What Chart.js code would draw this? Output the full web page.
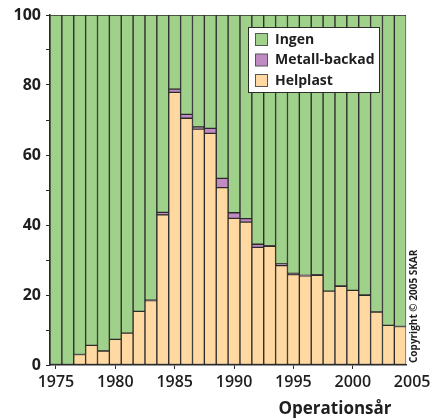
<!DOCTYPE html>
<html>
<head>
<meta charset="utf-8">
<script src="https://cdn.jsdelivr.net/npm/chart.js@4/dist/chart.umd.min.js"></script>
<style>
  body { margin: 0; background: #fff; }
  canvas { display: block; }
</style>
</head>
<body>
<canvas id="chart" width="434" height="420"></canvas>
<script>
const years = [1975, 1976, 1977, 1978, 1979, 1980, 1981, 1982, 1983, 1984,
  1985, 1986, 1987, 1988, 1989, 1990, 1991, 1992, 1993, 1994,
  1995, 1996, 1997, 1998, 1999, 2000, 2001, 2002, 2003, 2004];

const helplast = [0, 0, 3.0, 5.6, 4.0, 7.3, 9.1, 15.3, 18.4, 42.9,
  77.9, 70.5, 67.4, 66.2, 50.7, 41.9, 40.8, 33.6, 33.9, 28.4,
  25.8, 25.5, 25.6, 21.1, 22.5, 21.3, 19.9, 15.1, 11.3, 11.0];

const metall = [0, 0, 0, 0, 0, 0, 0, 0, 0.1, 0.7,
  0.9, 1.1, 0.6, 1.4, 2.6, 1.6, 1.0, 0.9, 0.2, 0.5,
  0.4, 0.1, 0.2, 0, 0.1, 0, 0.1, 0.1, 0, 0];

const ingen = [100, 100, 97.0, 94.4, 96.0, 92.7, 90.9, 84.7, 81.5, 56.4,
  21.2, 28.4, 32.0, 32.4, 46.7, 56.5, 58.2, 65.5, 65.9, 71.1,
  73.8, 74.4, 74.2, 78.9, 77.4, 78.7, 80.0, 84.8, 88.7, 89.0];

const xTickYears = [1975, 1980, 1985, 1990, 1995, 2000, 2005];
const yTickLabels = [0, 20, 40, 60, 80, 100];

const FONT = "'Open Sans', sans-serif";
const DARK = "#2b2b2b";

function points(values) {
  return years.map((y, i) => ({ x: y, y: values[i] }));
}

function barSet(label, values, color) {
  return {
    label: label,
    data: points(values),
    backgroundColor: color,
    borderColor: DARK,
    borderWidth: 1,
    borderSkipped: false,
    barPercentage: 1,
    categoryPercentage: 1
  };
}

// legend box, axis title and copyright drawn on top of the chart
const overlay = {
  id: "overlay",
  afterDraw(chart) {
    const ctx = chart.ctx;
    ctx.save();

    // legend
    const bx = 248.5, by = 27.5, bw = 131, bh = 65;
    ctx.fillStyle = "#fff";
    ctx.fillRect(bx, by, bw, bh);
    ctx.strokeStyle = DARK;
    ctx.lineWidth = 1;
    ctx.strokeRect(bx, by, bw, bh);

    const sets = chart.data.datasets.slice().reverse();
    ctx.font = "bold 14px " + FONT;
    ctx.textBaseline = "middle";
    ctx.textAlign = "left";
    sets.forEach((ds, i) => {
      const sy = 33.5 + i * 20.5;
      ctx.fillStyle = ds.backgroundColor;
      ctx.fillRect(255.5, sy, 12, 12);
      ctx.strokeStyle = "#555";
      ctx.strokeRect(255.5, sy, 12, 12);
      ctx.fillStyle = "#1e1e1e";
      ctx.fillText(ds.label, 275, sy + 6.5);
    });

    // x axis title
    ctx.font = "bold 17px " + FONT;
    ctx.textAlign = "center";
    ctx.fillStyle = "#1e1e1e";
    ctx.fillText("Operationsår", 335, 409);

    // copyright, vertical
    ctx.translate(414, 363);
    ctx.rotate(-Math.PI / 2);
    ctx.font = "bold 10px " + FONT;
    ctx.textAlign = "left";
    ctx.fillText("Copyright © 2005 SKAR", 0, 0);

    ctx.restore();
  }
};

new Chart(document.getElementById("chart"), {
  type: "bar",
  data: {
    datasets: [
      barSet("Helplast", helplast, "#ffd9a1"),
      barSet("Metall-backad", metall, "#bf8bc2"),
      barSet("Ingen", ingen, "#a0d18b")
    ]
  },
  options: {
    responsive: false,
    animation: false,
    layout: { padding: { top: 15, right: 27, left: 0, bottom: 0 } },
    plugins: {
      legend: { display: false },
      tooltip: { enabled: false }
    },
    scales: {
      x: {
        type: "linear",
        stacked: true,
        min: 1974.5,
        max: 2004.5,
        offset: false,
        afterBuildTicks: (scale) => {
          scale.ticks = xTickYears.map(v => ({ value: v }));
        },
        afterFit: (scale) => { scale.height = 55; },
        grid: {
          display: true,
          offset: false,
          drawOnChartArea: false,
          tickLength: 4,
          tickColor: (c) => (c.tick && c.tick.value > 2004.5 ? "rgba(0,0,0,0)" : DARK)
        },
        border: { display: true, color: DARK, width: 1.5 },
        ticks: {
          autoSkip: false,
          maxRotation: 0,
          padding: 4,
          color: "#1e1e1e",
          font: { family: FONT, size: 16, weight: "600" },
          callback: (v) => String(v)
        }
      },
      y: {
        stacked: true,
        min: 0,
        max: 100,
        afterFit: (scale) => { scale.width = 50; },
        grid: {
          display: true,
          drawOnChartArea: false,
          tickLength: 4,
          tickColor: DARK
        },
        border: { display: true, color: DARK, width: 1.5 },
        ticks: {
          stepSize: 10,
          padding: 5,
          color: "#1e1e1e",
          font: { family: FONT, size: 16, weight: "bold" },
          callback: (v) => (yTickLabels.includes(v) ? String(v) : "")
        }
      }
    }
  },
  plugins: [overlay]
});
</script>
</body>
</html>
